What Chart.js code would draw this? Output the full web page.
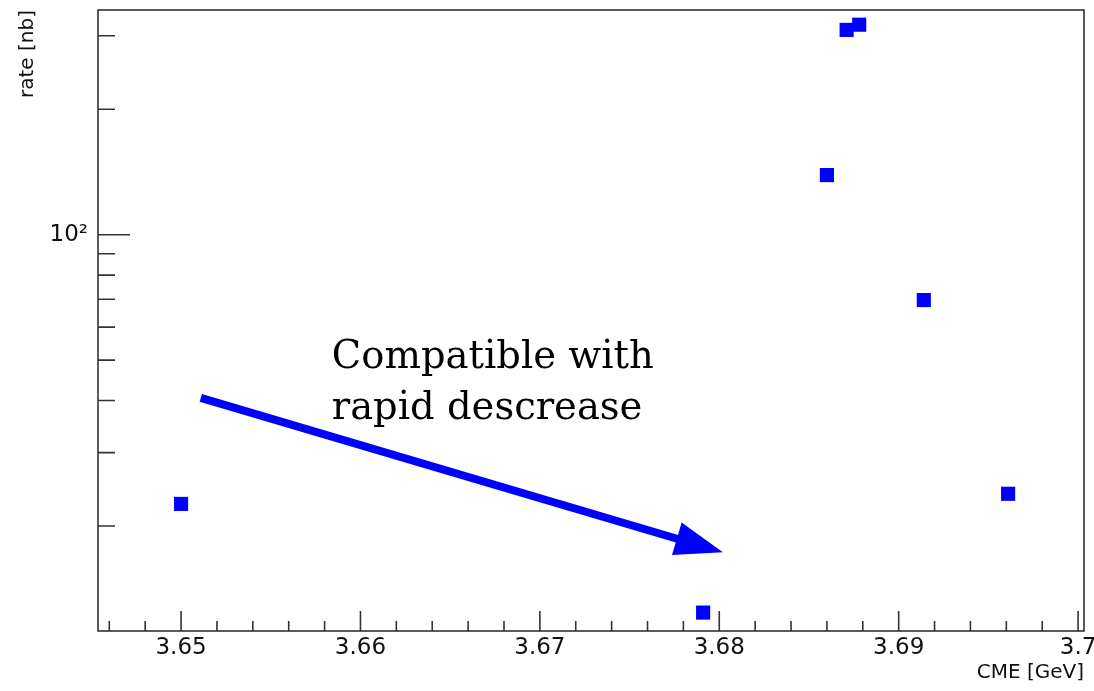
<!DOCTYPE html>
<html>
<head>
<meta charset="utf-8">
<script src="https://cdn.jsdelivr.net/npm/chart.js@4"></script>
<style>
  html, body { margin: 0; padding: 0; background: #fff; }
  #wrap { width: 1094px; height: 691px; }
</style>
</head>
<body>
<div id="wrap"><canvas id="rateChart"></canvas></div>
<script>
// ---- data ----
const cme = [3.6500, 3.6791, 3.6860, 3.6871, 3.6878, 3.6914, 3.6961];
const rate = [22.6, 12.4, 139, 310, 319, 69.7, 23.9];

// axis ranges + ticks
const xMin = 3.64537, xMax = 3.70033;
const yMin = 11.2, yMax = 346;
const xMajorTicks = [3.65, 3.66, 3.67, 3.68, 3.69, 3.70];
const xTickLabels = ['3.65', '3.66', '3.67', '3.68', '3.69', '3.7'];
const xMinorTicks = [3.646, 3.648, 3.652, 3.654, 3.656, 3.658, 3.662, 3.664, 3.666, 3.668,
    3.672, 3.674, 3.676, 3.678, 3.682, 3.684, 3.686, 3.688, 3.692, 3.694, 3.696, 3.698];
const yMajorTicks = [100];
const yTickLabels = ['10²'];
const yMinorTicks = [20, 30, 40, 50, 60, 70, 80, 90, 200, 300];

// annotation (data coords)
const noteLines = ['Compatible with', 'rapid descrease'];
const noteX = 3.6584;
const noteY = [47.9, 36.2];
const arrowFrom = { x: 3.6511, y: 40.6 };
const arrowTo = { x: 3.6802, y: 17.3 };

const axisColor = '#333';
const textColor = '#111';

// ---- frame, inside ticks, arrow + text ----
const rootFrame = {
    id: 'rootFrame',
    afterDraw(chart) {
        const { ctx, chartArea: a, scales: { x, y } } = chart;
        ctx.save();
        ctx.strokeStyle = axisColor;
        ctx.lineWidth = 1.6;
        ctx.strokeRect(a.left, a.top, a.right - a.left, a.bottom - a.top);

        ctx.beginPath();
        xMajorTicks.forEach(v => { const px = x.getPixelForValue(v); ctx.moveTo(px, a.bottom); ctx.lineTo(px, a.bottom - 20); });
        xMinorTicks.forEach(v => { const px = x.getPixelForValue(v); ctx.moveTo(px, a.bottom); ctx.lineTo(px, a.bottom - 10); });
        yMajorTicks.forEach(v => { const py = y.getPixelForValue(v); ctx.moveTo(a.left, py); ctx.lineTo(a.left + 32, py); });
        yMinorTicks.forEach(v => { const py = y.getPixelForValue(v); ctx.moveTo(a.left, py); ctx.lineTo(a.left + 17, py); });
        ctx.stroke();

        // arrow
        const x0 = x.getPixelForValue(arrowFrom.x), y0 = y.getPixelForValue(arrowFrom.y);
        const x1 = x.getPixelForValue(arrowTo.x), y1 = y.getPixelForValue(arrowTo.y);
        const ang = Math.atan2(y1 - y0, x1 - x0);
        const headLen = 48, headW = 17;
        const bx = x1 - headLen * Math.cos(ang), by = y1 - headLen * Math.sin(ang);
        ctx.strokeStyle = '#0000ff';
        ctx.fillStyle = '#0000ff';
        ctx.lineWidth = 8;
        ctx.beginPath();
        ctx.moveTo(x0, y0);
        ctx.lineTo(bx + 2 * Math.cos(ang), by + 2 * Math.sin(ang));
        ctx.stroke();
        ctx.beginPath();
        ctx.moveTo(x1, y1);
        ctx.lineTo(bx - headW * Math.sin(ang), by + headW * Math.cos(ang));
        ctx.lineTo(bx + headW * Math.sin(ang), by - headW * Math.cos(ang));
        ctx.closePath();
        ctx.fill();

        // text
        ctx.fillStyle = '#000';
        ctx.font = '38.5px "DejaVu Serif"';
        ctx.textAlign = 'left';
        ctx.textBaseline = 'alphabetic';
        noteLines.forEach((t, i) => ctx.fillText(t, x.getPixelForValue(noteX), y.getPixelForValue(noteY[i])));
        ctx.restore();
    }
};

const ctx = document.getElementById('rateChart').getContext('2d');
const rateChart = new Chart(ctx, {
    type: 'scatter',
    data: {
        datasets: [{
            label: 'rate',
            data: cme.map((v, i) => ({ x: v, y: rate[i] })),
            pointStyle: 'rect',
            pointRadius: 10,
            pointHoverRadius: 10,
            backgroundColor: '#0000ff',
            borderWidth: 0
        }]
    },
    options: {
        responsive: true,
        maintainAspectRatio: false,
        animation: false,
        layout: { padding: { top: 6, right: 7, left: 0, bottom: 0 } },
        plugins: { legend: { display: false }, tooltip: { enabled: false } },
        scales: {
            x: {
                type: 'linear',
                min: xMin, max: xMax,
                grid: { display: false, drawTicks: false },
                border: { display: false },
                afterBuildTicks: s => { s.ticks = xMajorTicks.map(v => ({ value: v })); },
                afterFit: s => { s.height = 60; s.paddingLeft = 0; s.paddingRight = 0; },
                ticks: {
                    padding: 3,
                    color: textColor,
                    maxRotation: 0,
                    font: { family: 'DejaVu Sans', size: 23 },
                    callback: (v, i) => xTickLabels[i]
                },
                title: {
                    display: true, text: 'CME [GeV]', align: 'end',
                    color: textColor, font: { family: 'DejaVu Sans', size: 20 },
                    padding: { top: 0, bottom: 6 }
                }
            },
            y: {
                type: 'logarithmic',
                min: yMin, max: yMax,
                grid: { display: false, drawTicks: false },
                border: { display: false },
                afterBuildTicks: s => { s.ticks = yMajorTicks.map(v => ({ value: v })); },
                afterFit: s => { s.width = 98; s.paddingTop = 0; s.paddingBottom = 0; },
                ticks: {
                    padding: 10,
                    color: textColor,
                    font: { family: 'DejaVu Sans', size: 23 },
                    callback: (v, i) => yTickLabels[i]
                },
                title: {
                    display: true, text: 'rate [nb]', align: 'end',
                    color: textColor, font: { family: 'DejaVu Sans', size: 20 },
                    padding: { top: 16, bottom: 0 }
                }
            }
        }
    },
    plugins: [rootFrame]
});
</script>
</body>
</html>
